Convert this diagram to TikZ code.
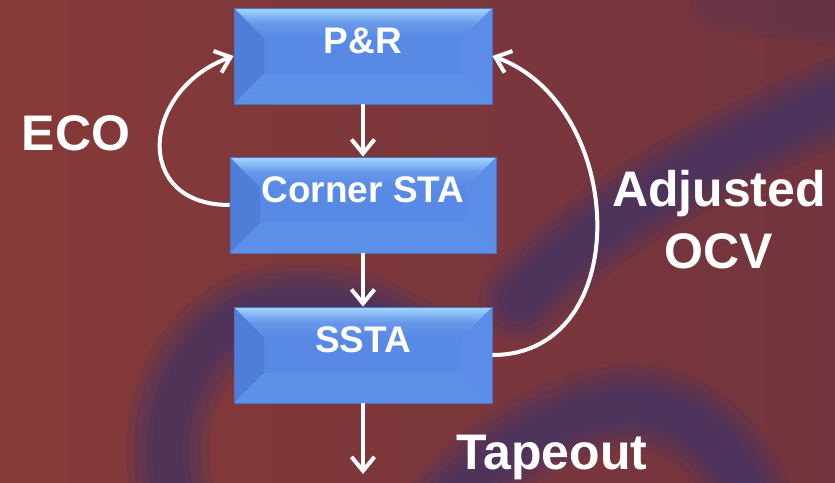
\documentclass[tikz,border=0pt]{standalone}
\usepackage{fontspec}
\setmainfont{Liberation Sans}
\usetikzlibrary{arrows.meta,positioning,calc}
\definecolor{bgleft}{HTML}{863A38}
\definecolor{bgright}{HTML}{72343E}
\definecolor{swoosh}{HTML}{38336E}
\definecolor{boxblue}{HTML}{5889E5}
\definecolor{boxdark}{HTML}{4E7ED7}
\definecolor{boxlite}{HTML}{6195EC}
\definecolor{boxhi}{HTML}{A4D6FF}
\definecolor{boxedge}{HTML}{4A74C2}

\begin{document}
\begin{tikzpicture}[x=1pt,y=1pt,
    box/.style={draw=boxedge,line width=0.8pt,fill=boxblue,inner sep=0pt,
                minimum width=258pt,minimum height=96pt,text=white,
                font=\fontsize{37}{44}\selectfont\bfseries,
                text height=26pt,text depth=31pt,
                path picture={
                  \coordinate (bvnw) at (path picture bounding box.north west);
                  \coordinate (bvne) at (path picture bounding box.north east);
                  \coordinate (bvsw) at (path picture bounding box.south west);
                  \coordinate (bvse) at (path picture bounding box.south east);
                  \fill[boxdark] (bvnw) -- ([shift={(30pt,-30pt)}]bvnw)
                    -- ([shift={(30pt,30pt)}]bvsw) -- (bvsw) -- cycle;
                  \fill[boxlite!35!boxblue] (bvne) -- ([shift={(-30pt,-30pt)}]bvne)
                    -- ([shift={(-30pt,30pt)}]bvse) -- (bvse) -- cycle;
                  \fill[boxlite!60!boxblue] (bvsw) -- ([shift={(30pt,30pt)}]bvsw)
                    -- ([shift={(-30pt,30pt)}]bvse) -- (bvse) -- cycle;
                  \shade[top color=boxhi,bottom color=boxblue,middle color=boxblue!80!boxhi]
                    (bvnw) -- (bvne) -- ([shift={(-30pt,-30pt)}]bvne)
                    -- ([shift={(30pt,-30pt)}]bvnw) -- cycle;}},
    lbl/.style={text=white,inner sep=0pt,font=\fontsize{50}{62}\selectfont\bfseries},
    fl/.style={-{Straight Barb[length=14pt,width=23pt]},white,line width=4pt},
    haze/.style={swoosh,line cap=round,opacity=0.18}]
  \useasboundingbox (0,0) rectangle (835,-482);
  % background
  \shade[left color=bgleft,right color=bgright] (0,0) rectangle (835,-482);
  \foreach \w in {84,68,54,42,30} {
    \draw[haze,line width=\w pt] (850,-95) .. controls (720,-150) and (590,-220) .. (520,-300);
    \draw[haze,line width=\w pt] (175,-500) .. controls (150,-420) and (190,-330) .. (260,-310)
      .. controls (330,-292) and (380,-320) .. (420,-345);
    \draw[haze,line width=\w pt] (450,-500) .. controls (520,-430) and (600,-395) .. (660,-410)
      .. controls (700,-420) and (740,-460) .. (750,-500);
  }
  \foreach \w in {60,40} {
    \draw[haze,line width=\w pt,opacity=0.1] (720,0) -- (850,-20);
  }

  \node[box] (pr) at (363,-56) {P\&R};
  \node[box,minimum width=266pt] (cs) at (363,-205) {Corner STA};
  \node[box] (ss) at (363,-355) {SSTA};
  \coordinate (out) at (363,-474);

  \node[lbl,anchor=base] (eco) at (76,-150) {ECO};
  \node[lbl,align=center] (ocv) at (719,-220) {Adjusted\\OCV};
  \node[lbl,anchor=base] (tape) at (552,-469) {Tapeout};

  \draw[fl] (pr) -- (cs);
  \draw[fl] (cs) -- (ss);
  \draw[fl] (ss) -- (out);
  \draw[fl] (cs.west) to[out=180,in=200,looseness=1.68] (pr.west);
  \draw[fl] (ss.east) to[out=0,in=-20,looseness=1.23] (pr.east);
\end{tikzpicture}
\end{document}
